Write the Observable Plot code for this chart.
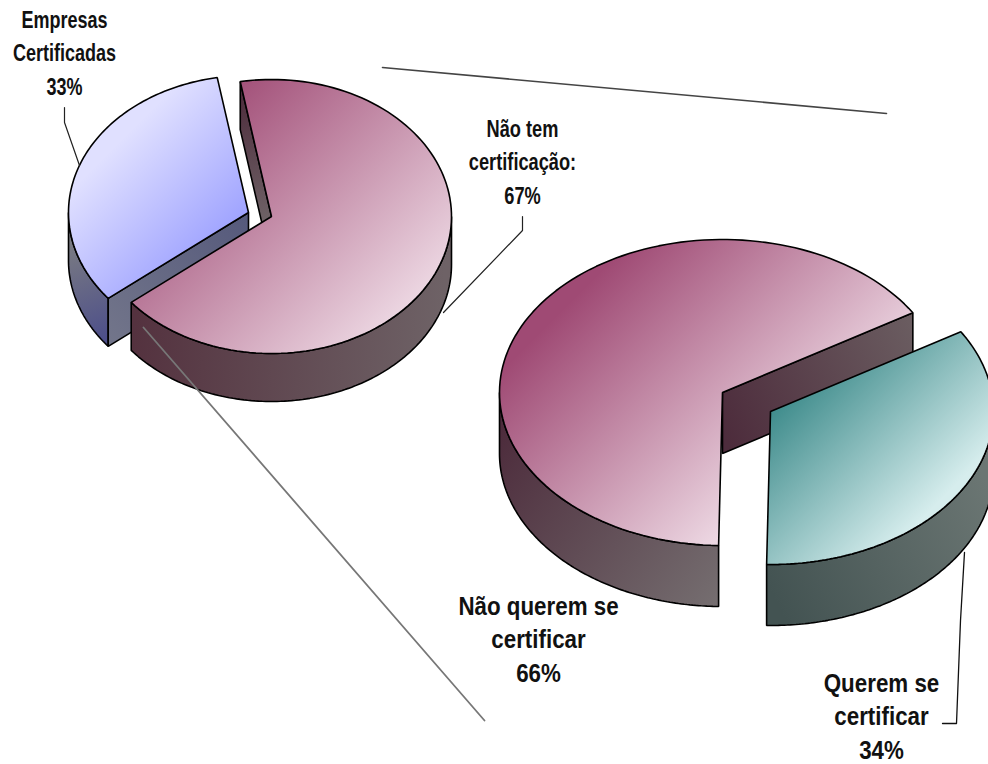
<!DOCTYPE html>
<html lang="pt">
<head>
<meta charset="utf-8">
<style>
html,body{margin:0;padding:0;background:#fff;overflow:hidden}
svg{display:block}
</style>
<script src="https://cdn.jsdelivr.net/npm/d3@7"></script>
<script src="https://cdn.jsdelivr.net/npm/@observablehq/plot@0.6"></script>
</head>
<body>
<div id="chart"></div>
<script>
// Data
const leftCategories = ["Não tem certificação", "Empresas Certificadas"];
const leftValues = [67, 33];
const rightCategories = ["Não querem se certificar", "Querem se certificar"];
const rightValues = [66, 34];

// Labels
const labelTexts = ["Empresas\nCertificadas\n33%", "Não tem\ncertificação:\n67%", "Não querem se\ncertificar\n66%", "Querem se\ncertificar\n34%"];
const labelX = [64, 522, 538, 881];
const labelY = [50, 159, 637, 714];
const labelStretch = [0.75, 0.76, 0.86, 0.86];

// Leaders and connector lines
const leaderEmpresas = [[64, 107], [64, 122], [79, 165]];
const leaderNaoTem = [[522, 216], [522, 230], [443, 312]];
const leaderQuerem = [[964, 552], [960, 620], [956, 723], [942, 723]];
const connectorTop = [[382, 67], [886, 113]];
const connectorBottom = [[143, 327], [484, 720]];

// Pie layouts
const leftPie = {cx: 271, cy: 216, rx: 180, ry: 137, depth: 48, start: -10};
const rightPie = {cx: 722, cy: 392, rx: 223, ry: 153, depth: 61, start: 181};
const blueOffset = [-23, -4];
const tealOffset = [48, 19];

// Gradients: id, x1, y1, x2, y2, from, to
const gradients = [
  ["gPinkL", 150, 150, 360, 360, "#9f4a74", "#edd8e3"],
  ["gPinkR", 435, 436, 629, 630, "#9f4a74", "#edd8e3"],
  ["gBlue", 130, 130, 230, 230, "#e0e0ff", "#9fa3ff"],
  ["gTeal", 775, 406, 905, 535, "#3f8c8c", "#d6eded"],
  ["gWallPinkL", 135, 320, 440, 340, "#54323f", "#6e6266"],
  ["gWallPinkR", 500, 430, 720, 600, "#4d2c3c", "#756e70"],
  ["gEdgePinkL", 243, 90, 270, 220, "#4d2c3c", "#6e6266"],
  ["gEdgePinkR", 722, 430, 917, 340, "#4d2c3c", "#6a5c60"],
  ["gWallBlue", 70, 240, 108, 340, "#7b7c82", "#4c4e8a"],
  ["gEdgeBlue", 110, 340, 248, 220, "#72758a", "#565a7c"],
  ["gWallTeal", 770, 590, 985, 480, "#435352", "#6b7673"]
];

const rad = d => d * Math.PI / 180;
function slices(pie, values) {
  return d3.pie().sort(null).startAngle(rad(pie.start)).endAngle(rad(pie.start + 360))(values);
}
function pt(p, a, off = [0, 0], drop = 0) {
  return [p.cx + off[0] + p.rx * Math.sin(a), p.cy + off[1] + drop - p.ry * Math.cos(a)];
}
function arcPts(p, a0, a1, off, drop) {
  return d3.range(0, 121).map(i => pt(p, a0 + (a1 - a0) * i / 120, off, drop));
}
const apex = (p, off = [0, 0], drop = 0) => [p.cx + off[0], p.cy + off[1] + drop];
const topPoly = (p, s, off) => [apex(p, off), ...arcPts(p, s.startAngle, s.endAngle, off, 0)];
function sidePoly(p, a0, a1, off) {
  return [...arcPts(p, a0, a1, off, 0), ...arcPts(p, a1, a0, off, p.depth)];
}
function edgePoly(p, a, off) {
  return [pt(p, a, off, 0), apex(p, off), apex(p, off, p.depth), pt(p, a, off, p.depth)];
}
const outline = (pts, fill) => Plot.line(pts, {
  x: d => d[0], y: d => d[1], curve: "linear-closed",
  fill, stroke: "#000", strokeWidth: 1.6, strokeLinejoin: "miter"
});
const wire = (pts, stroke, strokeWidth) => Plot.line(pts, {
  x: d => d[0], y: d => d[1], stroke, strokeWidth, curve: "linear"
});

const [pinkL, blue] = slices(leftPie, leftValues);
const [pinkR, teal] = slices(rightPie, rightValues);

const defs = () => {
  const ns = "http://www.w3.org/2000/svg";
  const d = document.createElementNS(ns, "defs");
  for (const [id, x1, y1, x2, y2, from, to] of gradients) {
    const g = document.createElementNS(ns, "linearGradient");
    g.setAttribute("id", id);
    g.setAttribute("gradientUnits", "userSpaceOnUse");
    Object.entries({x1, y1, x2, y2}).forEach(([k, v]) => g.setAttribute(k, v));
    [[0, from], [1, to]].forEach(([o, c]) => {
      const s = document.createElementNS(ns, "stop");
      s.setAttribute("offset", o);
      s.setAttribute("stop-color", c);
      g.appendChild(s);
    });
    d.appendChild(g);
  }
  return d;
};

const labelRows = labelTexts.map((text, i) => ({text, x: labelX[i], y: labelY[i]}));
const labelMark = (rows, fontSize, lineHeight) => Plot.text(rows, {
  x: "x", y: "y", text: "text",
  fontFamily: "'Liberation Sans', Arial, sans-serif",
  fontWeight: "bold", fontSize, lineHeight, fill: "#111", textAnchor: "middle"
});

const chart = Plot.plot({
  width: 988, height: 764,
  margin: 0,
  style: {background: "#fff", overflow: "hidden"},
  x: {domain: [0, 988], range: [0, 988], axis: null},
  y: {domain: [0, 764], range: [0, 764], axis: null},
  marks: [
    defs,
    // left pie, exploded blue slice at the back
    outline(sidePoly(leftPie, blue.startAngle, rad(270), blueOffset), "url(#gWallBlue)"),
    outline(edgePoly(leftPie, blue.startAngle, blueOffset), "url(#gEdgeBlue)"),
    outline(topPoly(leftPie, blue, blueOffset), "url(#gBlue)"),
    outline(edgePoly(leftPie, pinkL.startAngle), "url(#gEdgePinkL)"),
    outline(sidePoly(leftPie, rad(90), pinkL.endAngle), "url(#gWallPinkL)"),
    outline(topPoly(leftPie, pinkL), "url(#gPinkL)"),
    // right pie
    outline(edgePoly(rightPie, pinkR.endAngle), "url(#gEdgePinkR)"),
    outline(sidePoly(rightPie, pinkR.startAngle, rad(270)), "url(#gWallPinkR)"),
    outline(topPoly(rightPie, pinkR), "url(#gPinkR)"),
    outline(sidePoly(rightPie, rad(90), teal.endAngle - 2 * Math.PI, tealOffset), "url(#gWallTeal)"),
    outline(topPoly(rightPie, teal, tealOffset), "url(#gTeal)"),
    // connectors and leaders
    wire(connectorTop, "#444", 1.6),
    wire(connectorBottom, "#777", 1.8),
    wire(leaderEmpresas, "#222", 1.2),
    wire(leaderNaoTem, "#222", 1.2),
    wire(leaderQuerem, "#111", 1.3),
    // labels
    labelMark(labelRows.slice(0, 2), 24, 1.395),
    labelMark(labelRows.slice(2), 26, 1.29)
  ]
});
// The reference's label font is condensed: narrow the glyphs horizontally.
d3.select(chart).selectAll('g[aria-label="text"] text').attr("transform", function (d, i) {
  return this.getAttribute("transform") + ` scale(${labelStretch[i]},1)`;
});
document.getElementById("chart").appendChild(chart);
</script>
</body>
</html>
